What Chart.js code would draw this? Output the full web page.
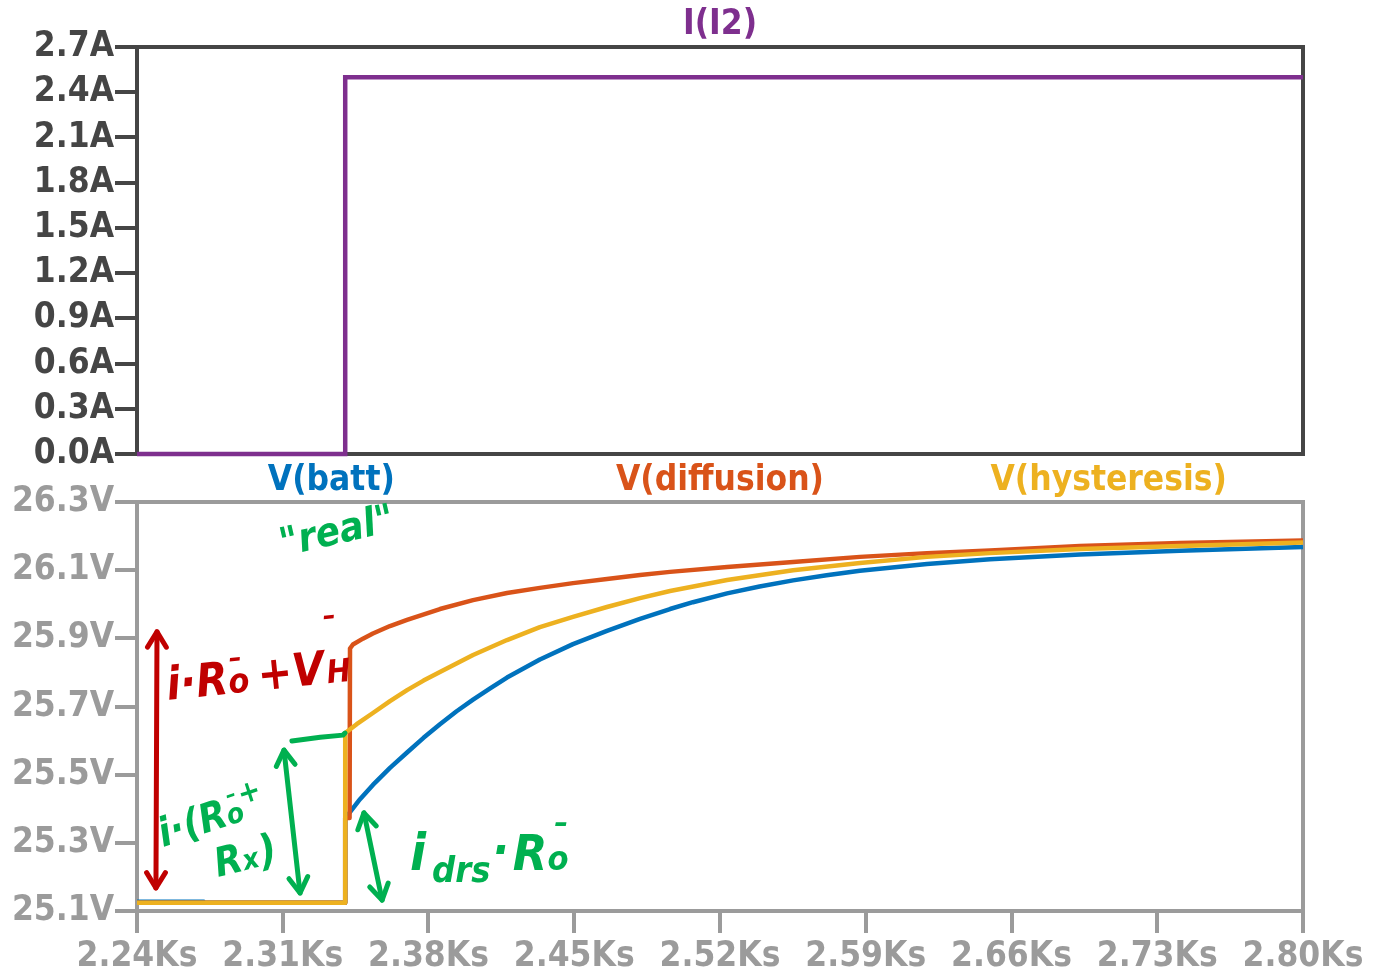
<!DOCTYPE html>
<html>
<head>
<meta charset="utf-8">
<script src="https://cdn.jsdelivr.net/npm/chart.js@4.4.1/dist/chart.umd.min.js"></script>
<style>
  html, body { margin: 0; padding: 0; background: #ffffff; }
  #wrap { position: relative; width: 1377px; height: 973px; overflow: hidden; }
  canvas { position: absolute; left: 0; }
</style>
</head>
<body>
<div id="wrap">
  <canvas id="currentChart" width="1377" height="476" style="top:0"></canvas>
  <canvas id="voltageChart" width="1377" height="513" style="top:460px"></canvas>
</div>
<script>
// ---- axes ----
const timeMin = 2.24, timeMax = 2.80;
const timeTicks = [2.24, 2.31, 2.38, 2.45, 2.52, 2.59, 2.66, 2.73, 2.80];
const timeTickLabels = ['2.24Ks', '2.31Ks', '2.38Ks', '2.45Ks', '2.52Ks', '2.59Ks', '2.66Ks', '2.73Ks', '2.80Ks'];
const currentTicks = [0, 0.3, 0.6, 0.9, 1.2, 1.5, 1.8, 2.1, 2.4, 2.7];
const currentTickLabels = ['0.0A', '0.3A', '0.6A', '0.9A', '1.2A', '1.5A', '1.8A', '2.1A', '2.4A', '2.7A'];
const voltTicks = [25.1, 25.3, 25.5, 25.7, 25.9, 26.1, 26.3];
const voltTickLabels = ['25.1V', '25.3V', '25.5V', '25.7V', '25.9V', '26.1V', '26.3V'];

// ---- I(I2): load current step (kiloseconds, amps) ----
const currentTime = [2.24, 2.34, 2.34, 2.80];
const currentAmps = [0, 0, 2.5, 2.5];

// ---- V(batt) ----
const battTime = [2.240, 2.272, 2.2722, 2.3399, 2.3400, 2.3423, 2.3471, 2.3533, 2.3615, 2.3697, 2.3776, 2.3855, 2.3935, 2.4014, 2.4096, 2.4177, 2.4335, 2.4494, 2.4657, 2.4816, 2.4960, 2.5070, 2.5234, 2.5390, 2.5551, 2.5712, 2.5872, 2.6194, 2.6497, 2.6929, 2.7409, 2.800];
const battV = [25.127, 25.127, 25.124, 25.124, 25.373, 25.390, 25.428, 25.470, 25.520, 25.565, 25.608, 25.648, 25.686, 25.720, 25.753, 25.785, 25.838, 25.883, 25.922, 25.957, 25.986, 26.006, 26.032, 26.052, 26.070, 26.085, 26.098, 26.118, 26.132, 26.146, 26.157, 26.168];

// ---- V(diffusion) ----
const diffTime = [2.240, 2.3399, 2.3400, 2.3421, 2.3423, 2.3437, 2.3485, 2.3533, 2.3615, 2.3697, 2.3855, 2.4014, 2.4177, 2.4335, 2.4494, 2.4657, 2.4816, 2.4960, 2.5234, 2.5551, 2.5872, 2.6194, 2.6497, 2.6929, 2.7409, 2.800];
const diffV = [25.124, 25.124, 25.373, 25.373, 25.870, 25.882, 25.899, 25.914, 25.936, 25.954, 25.986, 26.012, 26.033, 26.048, 26.062, 26.074, 26.086, 26.095, 26.109, 26.124, 26.139, 26.150, 26.158, 26.171, 26.180, 26.187];

// ---- V(hysteresis) ----
const hystTime = [2.240, 2.3399, 2.3400, 2.3455, 2.3533, 2.3615, 2.3697, 2.3776, 2.3855, 2.4014, 2.4177, 2.4335, 2.4494, 2.4657, 2.4816, 2.4960, 2.5234, 2.5551, 2.5872, 2.6194, 2.6497, 2.6929, 2.7409, 2.800];
const hystV = [25.124, 25.124, 25.622, 25.648, 25.681, 25.716, 25.748, 25.776, 25.801, 25.851, 25.895, 25.933, 25.963, 25.992, 26.018, 26.039, 26.071, 26.100, 26.121, 26.139, 26.150, 26.162, 26.171, 26.181];

const PURPLE = '#7e2f8e', BLUE = '#0072bd', ORANGE = '#d95319', YELLOW = '#edb120';
const INK_RED = '#c00000', INK_GREEN = '#00b050';
const FONT = "'DejaVu Sans Condensed', 'Liberation Sans Narrow', 'DejaVu Sans', sans-serif";
const INK_FONT = "'DejaVu Sans Condensed', 'DejaVu Sans', sans-serif";

const xy = (ts, vs) => ts.map((t, i) => ({ x: t, y: vs[i] }));

// Hand-drawn notes on the voltage panel, placed in (time, volts).
const inkArrows = [
  { color: INK_RED,   from: [2.2496, 25.919], to: [2.2491, 25.1675] },
  { color: INK_GREEN, from: [2.3106, 25.572], to: [2.3183, 25.153] },
  { color: INK_GREEN, from: [2.3490, 25.388], to: [2.3577, 25.132] }
];
const inkStrokes = [
  { color: INK_GREEN, points: [[2.3144, 25.599], [2.3280, 25.610], [2.3389, 25.616], [2.3399, 25.622]] }
];
// runs: [text, size, dy, dx]
const inkNotes = [
  { color: INK_GREEN, at: [2.3101, 26.140], angle: -13, runs: [['"real"', 40, 0, 0]] },
  { color: INK_RED, at: [2.2549, 25.719], angle: -6, runs: [
      ['i·R', 46, 0, 0], ['o', 34, 0, 0], ['–', 28, -26, -18], [' +V', 46, 0, 0], ['H', 32, 0, 2], ['–', 28, -58, -22]] },
  { color: INK_GREEN, at: [2.2525, 25.288], angle: -18, runs: [
      ['i·(R', 40, 0, 0], ['o', 28, 0, 0], ['–', 22, -22, -12], ['+', 30, -16, 2]] },
  { color: INK_GREEN, at: [2.2789, 25.200], angle: -14, runs: [
      ['R', 40, 0, 0], ['x', 28, 0, 0], [')', 42, 0, 2]] },
  { color: INK_GREEN, at: [2.3711, 25.220], angle: 0, runs: [
      ['i', 52, 0, 0], ['drs', 36, 12, 6], ['·', 48, -4, 2], ['R', 50, 0, 4], ['o', 34, 0, 0], ['–', 30, -38, -14]] }
];

const framePlugin = {
  id: 'frame',
  beforeDatasetsDraw(chart, args, opts) {
    const { ctx, chartArea: a } = chart;
    ctx.save();
    ctx.strokeStyle = opts.color;
    ctx.lineWidth = opts.width;
    ctx.strokeRect(a.left, a.top, a.right - a.left, a.bottom - a.top);
    ctx.restore();
  }
};

const traceTitlesPlugin = {
  id: 'traceTitles',
  afterDraw(chart, args, opts) {
    const { ctx, chartArea: a } = chart;
    const n = opts.items.length;
    const w = (a.right - a.left) / n;
    ctx.save();
    ctx.font = `bold ${opts.size}px ${FONT}`;
    ctx.textAlign = 'center';
    ctx.textBaseline = 'middle';
    opts.items.forEach((it, i) => {
      ctx.fillStyle = it.color;
      ctx.fillText(it.text, a.left + (i + 0.5) * w, opts.y);
    });
    ctx.restore();
  }
};

function arrowHead(ctx, x, y, ang, len) {
  const spread = 0.55;
  ctx.beginPath();
  ctx.moveTo(x + len * Math.cos(ang + spread), y + len * Math.sin(ang + spread));
  ctx.lineTo(x, y);
  ctx.lineTo(x + len * Math.cos(ang - spread), y + len * Math.sin(ang - spread));
  ctx.stroke();
}

const inkPlugin = {
  id: 'ink',
  afterDatasetsDraw(chart) {
    const { ctx } = chart;
    const sx = chart.scales.x, sy = chart.scales.y;
    const px = p => [sx.getPixelForValue(p[0]), sy.getPixelForValue(p[1])];
    ctx.save();
    ctx.lineCap = 'round';
    ctx.lineJoin = 'round';
    ctx.lineWidth = 5;
    inkArrows.forEach(a => {
      const [x1, y1] = px(a.from), [x2, y2] = px(a.to);
      ctx.strokeStyle = a.color;
      ctx.beginPath(); ctx.moveTo(x1, y1); ctx.lineTo(x2, y2); ctx.stroke();
      const ang = Math.atan2(y2 - y1, x2 - x1);
      arrowHead(ctx, x1, y1, ang, 18);
      arrowHead(ctx, x2, y2, ang + Math.PI, 18);
    });
    inkStrokes.forEach(s => {
      ctx.strokeStyle = s.color;
      ctx.beginPath();
      s.points.forEach((p, i) => { const [x, y] = px(p); i ? ctx.lineTo(x, y) : ctx.moveTo(x, y); });
      ctx.stroke();
    });
    inkNotes.forEach(n => {
      const [x0, y0] = px(n.at);
      ctx.save();
      ctx.translate(x0, y0);
      ctx.rotate(n.angle * Math.PI / 180);
      ctx.fillStyle = n.color;
      ctx.textBaseline = 'alphabetic';
      let cx = 0;
      n.runs.forEach(([txt, size, dy, dx]) => {
        ctx.font = `italic bold ${size}px ${INK_FONT}`;
        cx += dx || 0;
        ctx.fillText(txt, cx, dy || 0);
        cx += ctx.measureText(txt).width;
      });
      ctx.restore();
    });
    ctx.restore();
  }
};

const tickFont = { family: FONT, size: 35, weight: 'bold' };

new Chart(document.getElementById('currentChart'), {
  type: 'line',
  data: {
    datasets: [{
      label: 'I(I2)',
      data: xy(currentTime, currentAmps),
      borderColor: PURPLE,
      borderWidth: 4.5,
      pointRadius: 0,
      tension: 0,
      clip: false
    }]
  },
  plugins: [framePlugin, traceTitlesPlugin],
  options: {
    responsive: false,
    animation: false,
    layout: { padding: { top: 47, right: 74, bottom: 8, left: 0 } },
    plugins: {
      legend: { display: false },
      tooltip: { enabled: false },
      frame: { color: '#454545', width: 4 },
      traceTitles: { y: 25, size: 35, items: [{ text: 'I(I2)', color: PURPLE }] }
    },
    scales: {
      x: { type: 'linear', min: timeMin, max: timeMax, display: false },
      y: {
        type: 'linear', min: 0, max: 2.7,
        afterFit: s => { s.width = 137; },
        afterBuildTicks: s => { s.ticks = currentTicks.map(v => ({ value: v })); },
        border: { display: false },
        grid: { drawOnChartArea: false, tickLength: 22, tickWidth: 4, lineWidth: 4, tickColor: '#454545', color: '#454545' },
        ticks: { color: '#454545', font: tickFont, padding: 1, callback: (v, i) => currentTickLabels[i] }
      }
    }
  }
});

new Chart(document.getElementById('voltageChart'), {
  type: 'line',
  data: {
    datasets: [
      { label: 'V(batt)', data: xy(battTime, battV), borderColor: BLUE, order: 3 },
      { label: 'V(diffusion)', data: xy(diffTime, diffV), borderColor: ORANGE, order: 2 },
      { label: 'V(hysteresis)', data: xy(hystTime, hystV), borderColor: YELLOW, order: 1 }
    ].map(d => Object.assign(d, { borderWidth: 4.5, pointRadius: 0, tension: 0, clip: false, borderJoinStyle: 'round' }))
  },
  plugins: [framePlugin, traceTitlesPlugin, inkPlugin],
  options: {
    responsive: false,
    animation: false,
    layout: { padding: { top: 42, right: 74, bottom: 0, left: 0 } },
    plugins: {
      legend: { display: false },
      tooltip: { enabled: false },
      frame: { color: '#9b9b9b', width: 4 },
      traceTitles: { y: 21, size: 35, items: [
        { text: 'V(batt)', color: BLUE },
        { text: 'V(diffusion)', color: ORANGE },
        { text: 'V(hysteresis)', color: YELLOW }
      ] }
    },
    scales: {
      x: {
        type: 'linear', min: timeMin, max: timeMax,
        afterFit: s => { s.height = 62; },
        afterBuildTicks: s => { s.ticks = timeTicks.map(v => ({ value: v })); },
        border: { display: false },
        grid: { drawOnChartArea: false, tickLength: 22, tickWidth: 4, lineWidth: 4, tickColor: '#9b9b9b', color: '#9b9b9b' },
        ticks: { color: '#9b9b9b', font: tickFont, padding: 3, maxRotation: 0, autoSkip: false, callback: (v, i) => timeTickLabels[i] }
      },
      y: {
        type: 'linear', min: 25.1, max: 26.3,
        afterFit: s => { s.width = 137; },
        afterBuildTicks: s => { s.ticks = voltTicks.map(v => ({ value: v })); },
        border: { display: false },
        grid: { drawOnChartArea: false, tickLength: 22, tickWidth: 4, lineWidth: 4, tickColor: '#9b9b9b', color: '#9b9b9b' },
        ticks: { color: '#9b9b9b', font: tickFont, padding: 1, callback: (v, i) => voltTickLabels[i] }
      }
    }
  }
});
</script>
</body>
</html>
